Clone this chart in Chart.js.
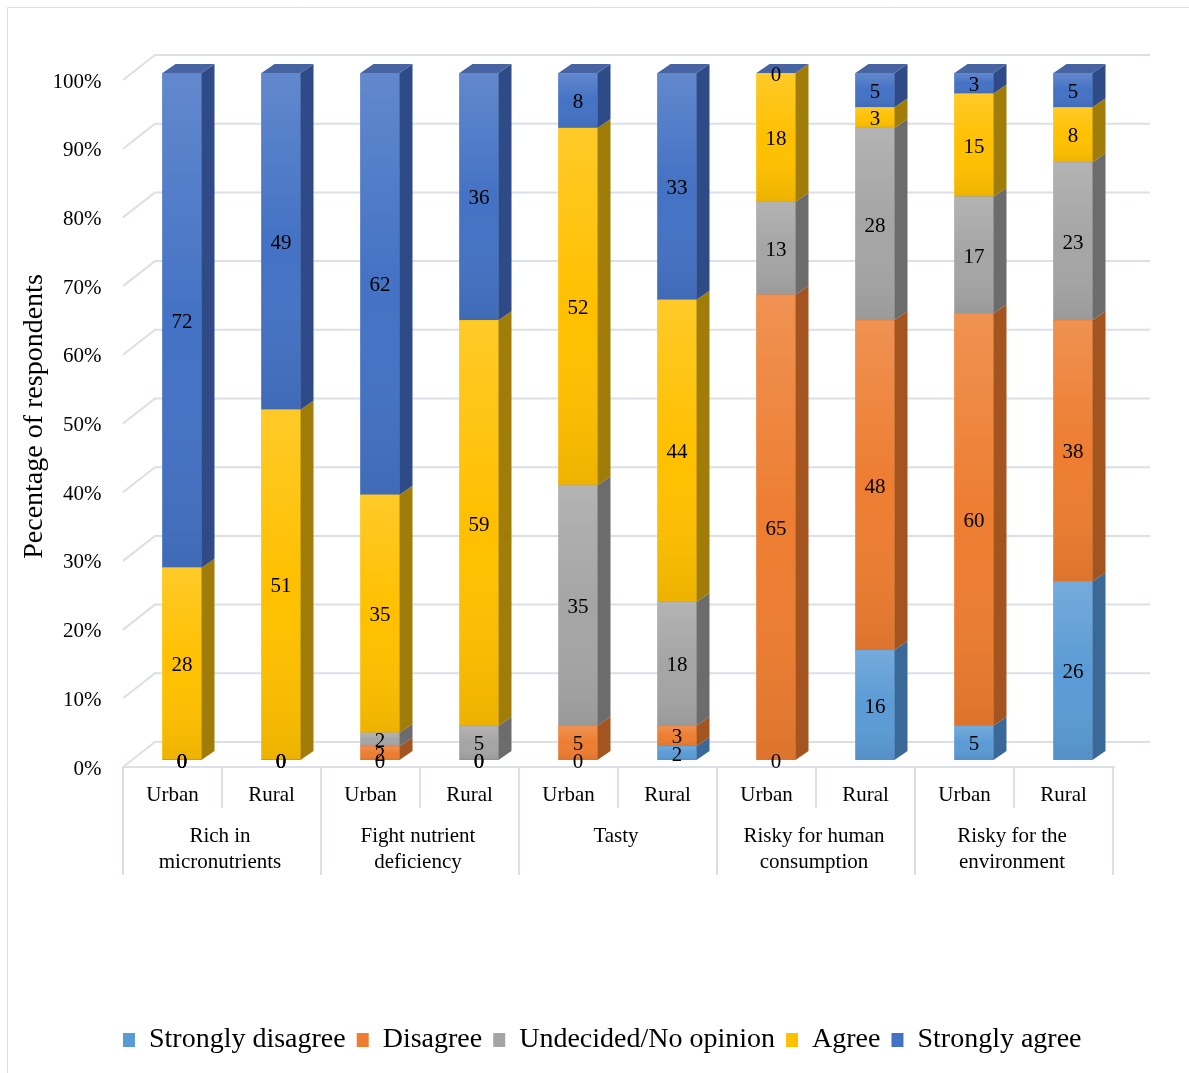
<!DOCTYPE html>
<html>
<head>
<meta charset="utf-8">
<script src="https://cdn.jsdelivr.net/npm/chart.js@4.4.1/dist/chart.umd.min.js"></script>
<style>
	html, body { margin: 0; padding: 0; background: #fff; }
	#wrap { position: relative; width: 1189px; height: 1073px; }
</style>
</head>
<body>
<div id="wrap"><canvas id="opinion-chart" width="1189" height="1073"></canvas></div>
<script>
const barLabels = [ 'Urban', 'Rural', 'Urban', 'Rural', 'Urban', 'Rural', 'Urban', 'Rural', 'Urban', 'Rural' ];
const groupLabels = [
	[ 'Rich in', 'micronutrients' ],
	[ 'Fight nutrient', 'deficiency' ],
	[ 'Tasty' ],
	[ 'Risky for human', 'consumption' ],
	[ 'Risky for the', 'environment' ],
];
const seriesNames = [ 'Strongly disagree', 'Disagree', 'Undecided/No opinion', 'Agree', 'Strongly agree' ];

const stronglyDisagree = [ 0, 0, 0, 0, 0, 2, 0, 16, 5, 26 ];
const disagree = [ 0, 0, 2, 0, 5, 3, 65, 48, 60, 38 ];
const undecided = [ 0, 0, 2, 5, 35, 18, 13, 28, 17, 23 ];
const agree = [ 28, 51, 35, 59, 52, 44, 18, 3, 15, 8 ];
const stronglyAgree = [ 72, 49, 62, 36, 8, 33, 0, 5, 3, 5 ];

const seriesValues = [ stronglyDisagree, disagree, undecided, agree, stronglyAgree ];
const frontColors = [ '#5b9bd5', '#ed7d31', '#a5a5a5', '#ffc000', '#4472c4' ];
const sideColors = [ '#3a6897', '#a3541f', '#6c6c6c', '#a07c08', '#2e4b88' ];
const topColor = '#4663a2';

const FONT = '"Liberation Serif", "Times New Roman", serif';
const GRID = '#dcdfe5';
const FRONT = { dx: -9.5, dy: 7 };
const BACK = { dxl: 22.5, dxr: 27.5, dy: -18 };
const DEPTH = { dx: 13, dy: -9 };

// 100% stacked: each bar is scaled to its own total
const barTotals = barLabels.map( ( _, i ) =>
	seriesValues.reduce( ( sum, values ) => sum + values[ i ], 0 )
);

const poly = ( ctx, pts, fill ) => {
	ctx.beginPath();
	ctx.moveTo( pts[ 0 ][ 0 ], pts[ 0 ][ 1 ] );
	pts.slice( 1 ).forEach( ( p ) => ctx.lineTo( p[ 0 ], p[ 1 ] ) );
	ctx.closePath();
	ctx.fillStyle = fill;
	ctx.fill();
};

const shade = ( ctx, x, top, w, h ) => {
	const g = ctx.createLinearGradient( 0, top, 0, top + h );
	g.addColorStop( 0, 'rgba(255,255,255,0.16)' );
	g.addColorStop( 0.5, 'rgba(255,255,255,0)' );
	g.addColorStop( 1, 'rgba(0,0,0,0.07)' );
	ctx.fillStyle = g;
	ctx.fillRect( x, top, w, h );
};

const wallsPlugin = {
	id: 'walls',
	beforeDatasetsDraw( chart ) {
		const { ctx, chartArea: area, scales: { x, y } } = chart;
		ctx.save();

		// outer frame
		ctx.strokeStyle = '#dcdcdc';
		ctx.lineWidth = 1;
		ctx.beginPath();
		ctx.moveTo( 7.5, chart.height );
		ctx.lineTo( 7.5, 7.5 );
		ctx.lineTo( chart.width, 7.5 );
		ctx.stroke();

		// back wall and left wall gridlines
		ctx.strokeStyle = GRID;
		ctx.lineWidth = 2;
		y.ticks.forEach( ( tick ) => {
			const py = y.getPixelForValue( tick.value );
			ctx.beginPath();
			ctx.moveTo( area.left + FRONT.dx, py + FRONT.dy );
			ctx.lineTo( area.left + BACK.dxl, py + BACK.dy );
			ctx.lineTo( area.right + BACK.dxr, py + BACK.dy );
			ctx.stroke();
		} );

		// floor front edge and the category table
		const y0 = y.getPixelForValue( 0 ) + FRONT.dy;
		const step = x.getPixelForValue( 1 ) - x.getPixelForValue( 0 );
		const left0 = x.getPixelForValue( 0 ) - step / 2 + FRONT.dx;
		ctx.beginPath();
		ctx.moveTo( left0, y0 );
		ctx.lineTo( area.right - 7.5, y0 );
		ctx.stroke();
		for ( let i = 0; i <= barLabels.length; i++ ) {
			const lx = left0 + i * step;
			ctx.beginPath();
			ctx.moveTo( lx, y0 );
			ctx.lineTo( lx, y0 + ( i % 2 === 0 ? 108 : 41 ) );
			ctx.stroke();
		}

		ctx.fillStyle = '#000';
		ctx.textAlign = 'center';
		ctx.textBaseline = 'middle';
		ctx.font = '21px ' + FONT;
		barLabels.forEach( ( label, i ) => {
			ctx.fillText( label, x.getPixelForValue( i ) + FRONT.dx, y0 + 28 );
		} );
		groupLabels.forEach( ( lines, g ) => {
			const cx = left0 + ( 2 * g + 1 ) * step - 2;
			lines.forEach( ( line, k ) => {
				ctx.fillText( line, cx, y0 + 69 + k * 26 );
			} );
		} );
		ctx.restore();
	},
	afterDatasetsDraw( chart ) {
		const { ctx } = chart;
		ctx.save();
		const metas = chart.data.datasets.map( ( _, d ) => chart.getDatasetMeta( d ) );

		metas.forEach( ( meta, d ) => {
			meta.data.forEach( ( el ) => {
				const top = Math.min( el.y, el.base );
				const bottom = Math.max( el.y, el.base );
				const right = el.x + el.width / 2;
				if ( bottom - top < 0.5 ) {
					return;
				}
				shade( ctx, el.x - el.width / 2, top, el.width, bottom - top );
				poly( ctx, [
					[ right, top ],
					[ right + DEPTH.dx, top + DEPTH.dy ],
					[ right + DEPTH.dx, bottom + DEPTH.dy ],
					[ right, bottom ],
				], sideColors[ d ] );
			} );
		} );

		// top face of each stack
		metas[ metas.length - 1 ].data.forEach( ( el ) => {
			const top = Math.min( el.y, el.base );
			const l = el.x - el.width / 2;
			const r = el.x + el.width / 2;
			poly( ctx, [
				[ l, top ],
				[ l + DEPTH.dx, top + DEPTH.dy ],
				[ r + DEPTH.dx, top + DEPTH.dy ],
				[ r, top ],
			], topColor );
		} );

		// value labels
		ctx.fillStyle = '#000';
		ctx.textAlign = 'center';
		ctx.textBaseline = 'middle';
		ctx.font = '21px ' + FONT;
		metas.forEach( ( meta, d ) => {
			meta.data.forEach( ( el, i ) => {
				ctx.fillText( String( seriesValues[ d ][ i ] ), el.x, ( el.y + el.base ) / 2 + 2 );
			} );
		} );
		ctx.restore();
	},
	afterLayout( chart ) {
		// legend sits a little right of centre in the original
		if ( chart.legend ) {
			chart.legend.left += 32;
			chart.legend.right += 32;
		}
	},
};

new Chart( document.getElementById( 'opinion-chart' ), {
	type: 'bar',
	data: {
		labels: barLabels,
		datasets: seriesValues.map( ( values, d ) => ( {
			label: seriesNames[ d ],
			data: values.map( ( v, i ) => ( v / barTotals[ i ] ) * 100 ),
			backgroundColor: frontColors[ d ],
			borderWidth: 0,
			barThickness: 39,
		} ) ),
	},
	options: {
		responsive: false,
		animation: false,
		devicePixelRatio: 1,
		layout: {
			padding: { top: 73, right: 66.5, left: 18, bottom: 9 },
		},
		scales: {
			x: {
				stacked: true,
				offset: true,
				grid: { display: false },
				border: { display: false },
				ticks: { display: false },
				afterFit( scale ) {
					const legendHeight = scale.chart.legend ? scale.chart.legend.height : 49;
					scale.height = scale.chart.height - 760 - legendHeight - 9;
				},
			},
			y: {
				stacked: true,
				min: 0,
				max: 100,
				grid: { display: false, drawTicks: false },
				border: { display: false },
				ticks: {
					stepSize: 10,
					padding: 31,
					labelOffset: 9,
					color: '#000',
					font: { family: FONT, size: 21 },
					callback: ( v ) => v + '%',
				},
				title: {
					display: true,
					text: 'Pecentage of respondents',
					color: '#000',
					padding: 0,
					font: { family: FONT, size: 28 },
				},
				afterFit( scale ) {
					scale.width = 114.5;
				},
			},
		},
		plugins: {
			legend: {
				position: 'bottom',
				labels: {
					boxWidth: 12,
					boxHeight: 14,
					padding: 11,
					color: '#000',
					font: { family: FONT, size: 28 },
				},
			},
			tooltip: { enabled: false },
		},
	},
	plugins: [ wallsPlugin ],
} );
</script>
</body>
</html>
